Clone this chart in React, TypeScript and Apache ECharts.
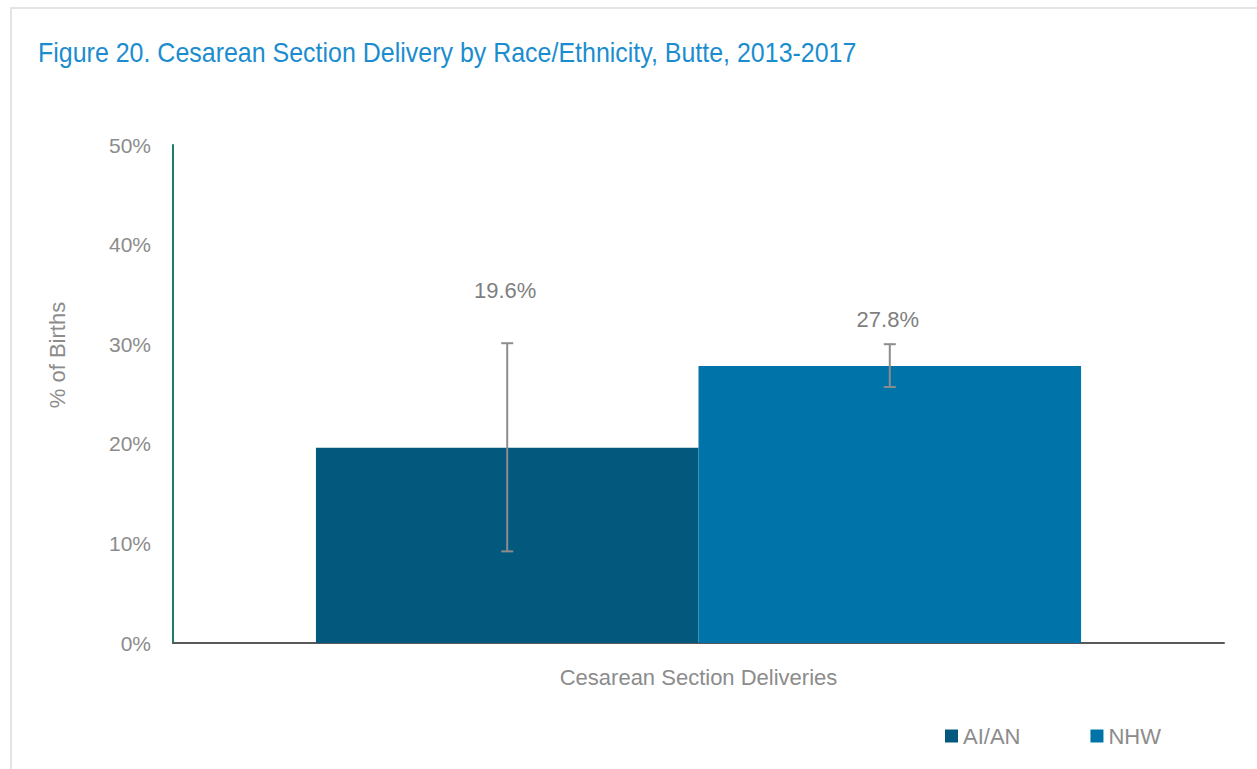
import React, { useEffect, useRef } from "react";
import * as echarts from "echarts";

const categories = ["Cesarean Section Deliveries"];
const seriesNames = ["AI/AN", "NHW"];
const values = [19.6, 27.8];
const lowerCI = [9.2, 25.7];
const upperCI = [30.1, 30.0];
const yTicks = [0, 10, 20, 30, 40, 50];
const titleText = "Figure 20. Cesarean Section Delivery by Race/Ethnicity, Butte, 2013-2017";
const yAxisName = "% of Births";

const colors = ["#02587D", "#0073A8"];
const labelDistances = [146, 36];
const GRAY = "#8C8C8C";
const CAT_GAP = 0.272;
const FONT = "Liberation Sans, Arial, sans-serif";

export default function App() {
  const ref = useRef<HTMLDivElement>(null);
  useEffect(() => {
    document.body.style.margin = "0";
    const chart = echarts.init(ref.current!, null, { renderer: "svg" });
    const errData = values.map((_, i) => [0, lowerCI[i], upperCI[i], i]);
    const option: any = {
      animation: false,
      backgroundColor: "#ffffff",
      textStyle: { fontFamily: FONT },
      graphic: [
        {
          type: "rect",
          shape: { x: 11, y: 8, width: 1260, height: 780 },
          style: { fill: "none", stroke: "#E4E4E4", lineWidth: 2 },
          silent: true,
        },
        {
          type: "text",
          x: 38,
          y: 53,
          scaleX: 0.925,
          silent: true,
          style: {
            text: titleText,
            x: 0,
            y: 0,
            fill: "#1B8DCF",
            font: "27px " + FONT,
            textAlign: "left",
            textVerticalAlign: "middle",
          },
        },
        {
          type: "text",
          x: 57,
          y: 355,
          rotation: Math.PI / 2,
          silent: true,
          style: {
            text: yAxisName,
            x: 0,
            y: 0,
            fill: GRAY,
            font: "22px " + FONT,
            textAlign: "center",
            textVerticalAlign: "middle",
          },
        },
      ],
      legend: {
        data: seriesNames,
        left: 940,
        top: 720,
        icon: "rect",
        itemWidth: 13,
        itemHeight: 13,
        itemGap: 70,
        textStyle: { color: GRAY, fontSize: 22, padding: [0, 0, 0, 0] },
      },
      grid: { left: 173, right: 33, top: 145, bottom: 126 },
      xAxis: {
        type: "category",
        data: categories,
        axisLine: { show: true, lineStyle: { color: "#595959", width: 2 } },
        axisTick: { show: false },
        axisLabel: { color: GRAY, fontSize: 22, margin: 23 },
      },
      yAxis: {
        type: "value",
        min: 0,
        max: 50,
        interval: 10,
        axisLine: { show: true, lineStyle: { color: "#1E7B70", width: 2 } },
        axisTick: { show: false },
        splitLine: { show: false },
        axisLabel: {
          color: GRAY,
          fontSize: 21,
          margin: 22,
          formatter: (v: number) => (yTicks.includes(v) ? v + "%" : ""),
        },
      },
      series: [
        ...seriesNames.map((name, i) => ({
          name,
          type: "bar",
          barGap: "0%",
          barCategoryGap: CAT_GAP * 100 + "%",
          itemStyle: { color: colors[i] },
          data: [
            {
              value: values[i],
              label: {
                show: true,
                position: "top",
                distance: labelDistances[i],
                color: "#7F7F7F",
                fontSize: 22,
                offset: [-2, 0],
                formatter: (p: any) => p.value.toFixed(1) + "%",
              },
            },
          ],
        })),
        {
          type: "custom",
          name: "CI",
          silent: true,
          z: 10,
          data: errData,
          encode: { x: 0, y: [1, 2] },
          renderItem: (params: any, api: any) => {
            const idx = api.value(3);
            const catW = api.size([1, 0])[0];
            const barW = (catW * (1 - CAT_GAP)) / seriesNames.length;
            const c = api.coord([api.value(0), 0]);
            const x = c[0] + (idx - (seriesNames.length - 1) / 2) * barW;
            const yl = api.coord([0, api.value(1)])[1];
            const yh = api.coord([0, api.value(2)])[1];
            const cap = 6;
            const st = { stroke: GRAY, lineWidth: 2 };
            return {
              type: "group",
              children: [
                { type: "line", shape: { x1: x, y1: yl, x2: x, y2: yh }, style: st },
                { type: "line", shape: { x1: x - cap, y1: yl, x2: x + cap, y2: yl }, style: st },
                { type: "line", shape: { x1: x - cap, y1: yh, x2: x + cap, y2: yh }, style: st },
              ],
            };
          },
        },
      ],
    };
    chart.setOption(option);
    return () => chart.dispose();
  }, []);
  return (
    <div
      ref={ref}
      style={{ position: "fixed", left: 0, top: 0, width: 1257, height: 769 }}
    />
  );
}
